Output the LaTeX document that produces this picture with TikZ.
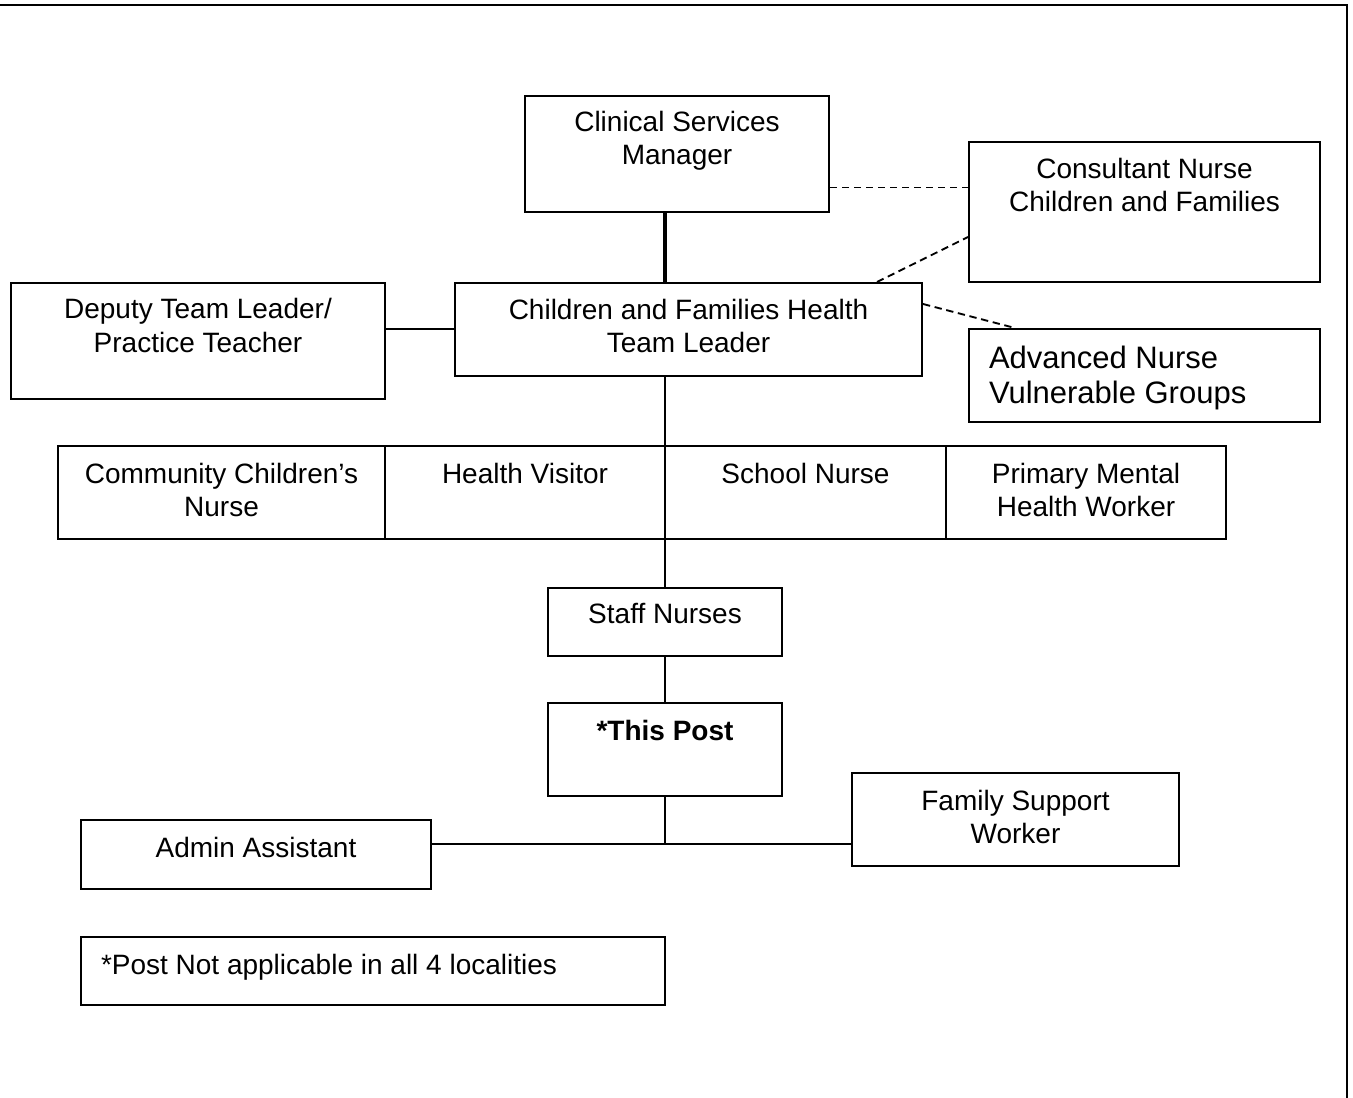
\documentclass[tikz,border=0pt]{standalone}
\usepackage{fontspec}
\setmainfont{Liberation Sans}
\usetikzlibrary{calc}
\newdimen\px \px=0.75pt
\newcommand{\cbox}[4]{\parbox[c][#2\px][t]{#1\px}{\centering\rule{0pt}{#3\px}#4\par}}
\newcommand{\lbox}[4]{\parbox[c][#2\px][t]{#1\px}{\raggedright\leftskip=20\px\rule{0pt}{#3\px}#4\par}}
\tikzset{
  box/.style={draw, line width=1.5pt, inner sep=0pt, anchor=north west,
    font=\fontsize{21pt}{24.75pt}\selectfont},
  conn/.style={line width=1.5pt},
  thickconn/.style={line width=3pt},
  dsh/.style={line width=1.4pt, dash pattern=on 5.5pt off 3.5pt},
  frame/.style={line width=2.2pt}
}
\begin{document}
\begin{tikzpicture}[x=0.75pt,y=-0.75pt]
\useasboundingbox (0,0) rectangle (1353,1098);
\coordinate (f1) at (0,5);
\coordinate (f2) at (1347,5);
\coordinate (f3) at (1347,1098);
\draw[frame] (f1) -- (f2) -- (f3);

\node[box] (csm) at (524,95) {\cbox{304}{116}{36}{Clinical Services\\Manager}};
\node[box] (cons) at (968,141) {\cbox{351}{140}{37}{Consultant Nurse\\Children and Families}};
\node[box] (tl) at (454,282) {\cbox{467}{93}{36}{Children and Families Health\\Team Leader}};
\node[box] (dep) at (10,282) {\cbox{374}{116}{36}{Deputy Team Leader/\\Practice Teacher}};
\node[box, font=\fontsize{23.25pt}{26.25pt}\selectfont] (adv) at (968,328) {\lbox{351}{93}{40}{Advanced Nurse\\Vulnerable Groups}};
\node[box] (c1) at (57,445) {\cbox{327}{93}{37}{Community Children’s\\Nurse}};
\node[box] (c2) at (384,445) {\cbox{280}{93}{37}{Health Visitor}};
\node[box] (c3) at (664,445) {\cbox{281}{93}{37}{School Nurse}};
\node[box] (c4) at (945,445) {\cbox{280}{93}{37}{Primary Mental\\Health Worker}};
\node[box] (staff) at (547,587) {\cbox{234}{68}{35}{Staff Nurses}};
\node[box] (post) at (547,702) {\cbox{234}{93}{37}{\textbf{*This Post}}};
\node[box] (admin) at (80,819) {\cbox{350}{69}{37}{Admin Assistant}};
\node[box] (fsw) at (851,772) {\cbox{327}{93}{37}{Family Support\\Worker}};
\node[box] (note) at (80,936) {\lbox{584}{68}{37}{*Post Not applicable in all 4 localities}};

\draw[thickconn] (csm.south -| staff.north) -- (tl.north -| staff.north);
\coordinate (d1) at ($(csm.north east)+(0,92.5)$);
\draw[dsh] (d1) -- (d1 -| cons.west);
\draw[dsh] ($(tl.north east)+(-46,0)$) -- ($(cons.south west)+(0,-46)$);
\draw[dsh] ($(tl.north east)+(0,22)$) -- ($(adv.north west)+(47,0)$);
\draw[conn] (tl.west) -- (tl.west -| dep.east);
\draw[conn] (tl.south -| staff.north) -- (staff.north);
\draw[conn] (staff.south) -- (post.north);
\coordinate (j) at ($(post.south)+(0,47)$);
\draw[conn] (post.south) -- (j);
\draw[conn] (admin.east |- j) -- (fsw.west |- j);
\end{tikzpicture}
\end{document}
